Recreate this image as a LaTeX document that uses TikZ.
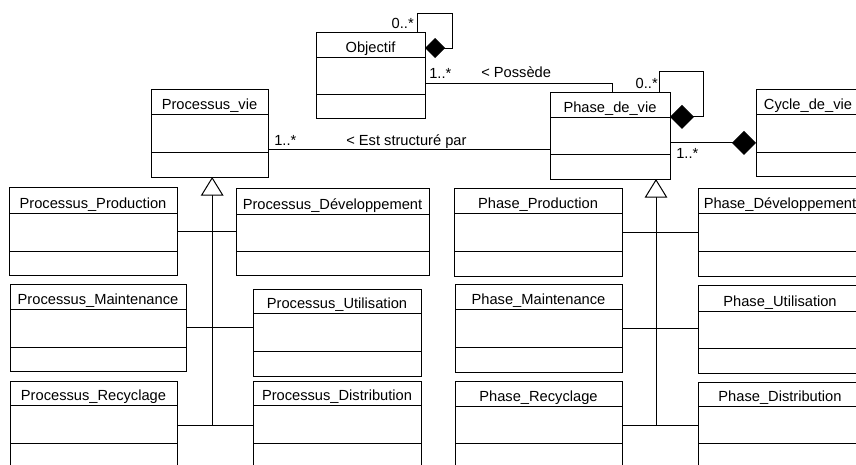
\documentclass[tikz,border=0pt]{standalone}
\usepackage{fontspec}
\setmainfont{Liberation Sans}
\usetikzlibrary{arrows.meta,calc}
\tikzset{
  clsbox/.style={draw=black, line width=0.75pt, inner sep=0pt, outer sep=0pt, fill=white},
  clsline/.style={draw=black, line width=0.75pt},
  clstitle/.style={inner sep=0pt, anchor=base, font=\fontsize{11}{13}\selectfont},
  lbl/.style={inner sep=0pt, font=\fontsize{11}{13}\selectfont},
  conn/.style={draw=black, line width=0.75pt},
  compS/.style={conn, -{Diamond[length=15pt,width=15pt,fill=black]}},
  compL/.style={conn, -{Diamond[length=18pt,width=18pt,fill=black]}},
  genz/.style={conn, -{Triangle[open,length=14pt,width=17pt,fill=white]}}
}
\newcommand{\umlclass}[8]{%
  \node[clsbox, minimum width={(#4-#2)*0.75pt}, minimum height={(#5-#3)*0.75pt}] (#1) at ({(#2+#4)/2},{(#3+#5)/2}) {};
  \draw[clsline] (#2,#6) -- (#4,#6) (#2,#7) -- (#4,#7);
  \node[clstitle] (#1-t) at ({(#2+#4)/2},{#6-4.5}) {#8};
}
\begin{document}
\begin{tikzpicture}[x=0.75pt,y=-0.75pt]
\useasboundingbox (0,0) rectangle (856,464);
\clip (0,0) rectangle (856,464);
\fill[white] (0,0) rectangle (856,464);

% top classes
\umlclass{obj}{316}{32}{425}{118}{57}{94}{Objectif}
\umlclass{pdv}{550}{92}{670}{179}{117}{154}{Phase\_de\_vie}
\umlclass{cyc}{756}{89}{860}{176}{114}{152}{Cycle\_de\_vie}
\umlclass{pv}{151}{89}{268}{177}{114}{152}{Processus\_vie}

% processus subclasses
\umlclass{pprod}{9}{187}{177}{275}{213}{251}{Processus\_Production}
\umlclass{pdev}{236}{188}{429}{275}{214}{251}{Processus\_Développement}
\umlclass{pmaint}{10}{284}{186}{371}{309}{347}{Processus\_Maintenance}
\umlclass{putil}{253}{289}{421}{376}{313}{351}{Processus\_Utilisation}
\umlclass{prec}{10}{381}{177}{469}{405}{443}{Processus\_Recyclage}
\umlclass{pdist}{253}{381}{421}{469}{405}{443}{Processus\_Distribution}

% phase subclasses
\umlclass{fprod}{454}{188}{622}{276}{213}{251}{Phase\_Production}
\umlclass{fdev}{698}{188}{862}{276}{213}{251}{Phase\_Développement}
\umlclass{fmaint}{455}{284}{622}{372}{309}{347}{Phase\_Maintenance}
\umlclass{futil}{698}{285}{862}{373}{311}{348}{Phase\_Utilisation}
\umlclass{frec}{455}{381}{622}{469}{406}{443}{Phase\_Recyclage}
\umlclass{fdist}{698}{382}{862}{470}{406}{443}{Phase\_Distribution}

% self loops (composition)
\coordinate (objloop) at (452,13);
\draw[compS] ([xshift=-6pt]obj.north east) |- (objloop) |- ([yshift=20.25pt]obj.east);
\coordinate (pdvloop) at (703,71);
\draw[compL] ([xshift=-8.25pt]pdv.north east) |- (pdvloop) |- ([yshift=14pt]pdv.east);

% associations
\draw[conn] ([yshift=-6pt]obj.east) -| ([xshift=1.5pt]pdv.north);
\draw[conn] ([yshift=-12pt]pv.east) -- ([yshift=-12pt]pv.east -| pdv.west);
\draw[compL] ([yshift=-5.6pt]pdv.east) -- ([yshift=-5.6pt]pdv.east -| cyc.west);

% labels
\node[lbl, anchor=east] (l1) at (414,23) {0..*};
\node[lbl, anchor=west] (l2) at (429,73) {1..*};
\node[lbl, anchor=west] (l3) at (481,72) {< Possède};
\node[lbl, anchor=east] (l4) at (658,83) {0..*};
\node[lbl, anchor=west] (l5) at (676,153) {1..*};
\node[lbl, anchor=west] (l6) at (274,140) {1..*};
\node[lbl, anchor=west] (l7) at (346,142) {< Est structuré par};

% generalisation: processus
\coordinate (ptrunk) at ([xshift=2pt]pv.south);
\draw[conn] (pprod.east) -- (pprod.east -| pdev.west);
\draw[conn] (pmaint.east) -- (pmaint.east -| putil.west);
\draw[conn] (prec.east) -- (prec.east -| pdist.west);
\draw[genz] (ptrunk |- prec.east) -- (ptrunk);

% generalisation: phase
\coordinate (ftrunk) at ([xshift=-10.5pt]pdv.south east);
\draw[conn] (fprod.east) -- (fprod.east -| fdev.west);
\draw[conn] (fmaint.east) -- (fmaint.east -| futil.west);
\draw[conn] (frec.east) -- (frec.east -| fdist.west);
\draw[genz] (ftrunk |- frec.east) -- (ftrunk);
\end{tikzpicture}
\end{document}
